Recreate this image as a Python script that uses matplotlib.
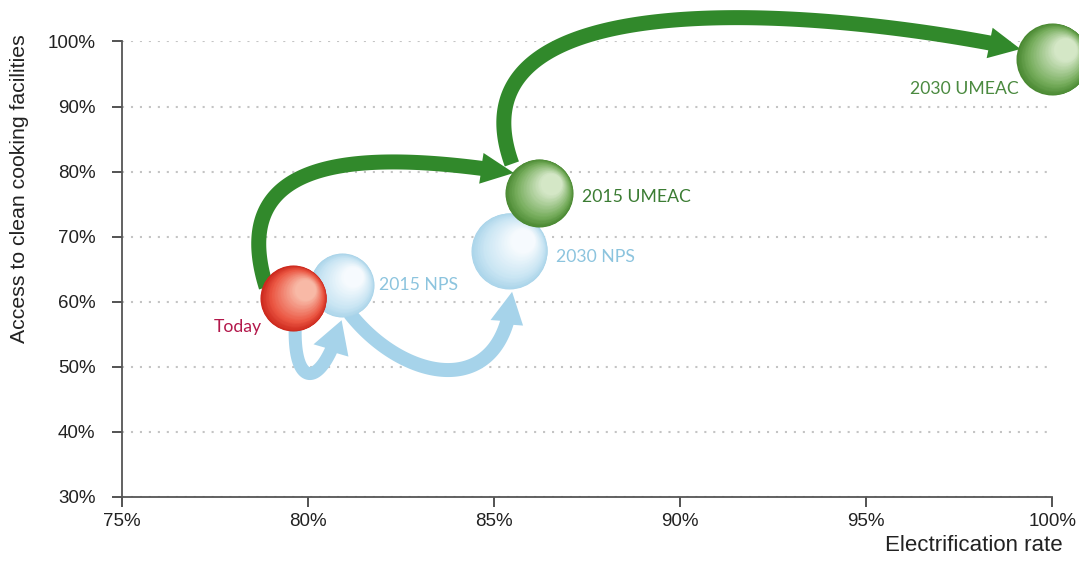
import numpy as np
import matplotlib
matplotlib.use('Agg')
import matplotlib.pyplot as plt
from matplotlib import transforms
from matplotlib.patches import Polygon
from matplotlib.colors import to_rgb

# Bubble data: electrification rate (%) vs access to clean cooking (%)
labels = ['Today', '2015 NPS', '2030 NPS', '2015 UMEAC', '2030 UMEAC']
electrification = [79.6, 80.9, 85.4, 86.2, 100.0]
clean_cooking = [60.5, 62.5, 67.8, 76.7, 97.3]

x_ticks = [75, 80, 85, 90, 95, 100]
y_ticks = [30, 40, 50, 60, 70, 80, 90, 100]

# Transitions between scenarios (from, to)
transitions = [(0, 3), (3, 4), (0, 1), (1, 2)]

# --- styling ---
ball_radius = [33, 32, 38, 34, 36]  # pixels
RED = ('#cc281d', '#eb5642', '#f8bba8')
PALE = ('#abd5ea', '#c9e5f3', '#f7fbfe')
OLIVE = ('#4a8932', '#76ad5c', '#d6e8c9')
ball_colors = [RED, PALE, PALE, OLIVE, OLIVE]
label_color = ['#b3184b', '#8cc4de', '#8cc4de', '#3b7c33', '#4b8a40']
# (dx, dy, ha) in pixels from bubble centre, baseline aligned
label_pos = [(-31, -34, 'right'), (37, -5, 'left'), (47, -11, 'left'),
             (43, -9, 'left'), (-34, -35, 'right')]
draw_order = [1, 2, 0, 3, 4]

GREEN = '#31892b'
BLUE = '#a6d3ea'
# per transition: start offset, start handle, end offset, end handle (pixels),
# body width, head width, head length, colour
arrow_style = [
    ((-27, 11), (-42, 135), (-25, 20), (-148, 23), 15, 31, 32, GREEN),
    ((-27, 29), (-68, 188), (-32, 10), (-196, 41), 15, 31, 31, GREEN),
    ((2, -28), (-2, -64), (0, -35), (-19, -70), 13, 37, 32, BLUE),
    ((8, -28), (55, -70), (3, -41), (-7, -110), 14, 33, 31, BLUE),
]

fig, ax = plt.subplots(figsize=(10.79, 5.70), dpi=100)
fig.subplots_adjust(left=0.1131, right=0.9754, bottom=0.1289, top=0.9272)
ax.set_xlim(75, 100)
ax.set_ylim(30, 100)

regular = ['Liberation Sans', 'DejaVu Sans']

ax.set_xticks(x_ticks)
ax.set_xticklabels([f'{v}%' for v in x_ticks], family=regular, fontsize=13.5, color='#222222')
ax.set_yticks(y_ticks)
ax.set_yticklabels([f'{v}%' for v in y_ticks], family=regular, fontsize=13.5, color='#222222')
ax.tick_params(direction='out', length=7.2, width=1.3, color='#444444')
ax.tick_params(axis='x', pad=5)
ax.tick_params(axis='y', pad=12)
for side in ['top', 'right']:
    ax.spines[side].set_visible(False)
for side in ['left', 'bottom']:
    ax.spines[side].set_color('#555555')
    ax.spines[side].set_linewidth(1.3)
ax.yaxis.grid(True, linestyle=(0, (1, 3.3)), linewidth=1.5, color='#c4c4c4')
ax.set_axisbelow(True)

fig.text(20 / 1079, 1 - 34 / 570, 'Access to clean cooking facilities', rotation=90,
         ha='center', va='top', family=regular, fontsize=15.3, color='#222222')
fig.text(1063 / 1079, 1 - 551 / 570, 'Electrification rate', ha='right', va='baseline',
         family=regular, fontsize=16, color='#222222')


def bezier(p0, p1, p2, p3, n=300):
    t = np.linspace(0, 1, n)[:, None]
    return ((1 - t) ** 3 * p0 + 3 * (1 - t) ** 2 * t * p1
            + 3 * (1 - t) * t ** 2 * p2 + t ** 3 * p3)


def curved_arrow(i, j, style):
    a_off, a_h, b_off, b_h, width, head_w, head_l, color = style
    ca = ax.transData.transform((electrification[i], clean_cooking[i]))
    cb = ax.transData.transform((electrification[j], clean_cooking[j]))
    p0 = ca + a_off
    p3 = cb + b_off
    pts = bezier(p0, p0 + a_h, p3 + b_h, p3)
    seg = np.hypot(*np.diff(pts, axis=0).T)
    s = np.concatenate([[0], np.cumsum(seg)])
    body = pts[s <= s[-1] - head_l]
    tang = np.gradient(body, axis=0)
    tang /= np.hypot(tang[:, 0], tang[:, 1])[:, None]
    norm = np.column_stack([-tang[:, 1], tang[:, 0]])
    left = body + norm * width / 2
    right = body - norm * width / 2
    d = pts[-1] - body[-1]
    d /= np.hypot(*d)
    n = np.array([-d[1], d[0]])
    head = [body[-1] + n * head_w / 2, pts[-1], body[-1] - n * head_w / 2]
    poly = np.vstack([left, head, right[::-1]])
    data = ax.transData.inverted().transform(poly)
    ax.add_patch(Polygon(data, closed=True, facecolor=color, edgecolor='none',
                         zorder=3, clip_on=False))


def draw_ball(k, z):
    # stack of shrinking, shifted discs gives a soft sphere shading
    dark, mid, light = [np.array(to_rgb(c)) for c in ball_colors[k]]
    r = ball_radius[k]
    n = 60
    for step in range(n):
        f = step / n
        rk = r * (1 - 0.7 * f)
        shift = 0.45 * r * f
        tr = transforms.offset_copy(ax.transData, fig=fig, x=shift * 0.8,
                                    y=shift * 0.6, units='dots')
        if f < 0.3:
            c = dark + (mid - dark) * (f / 0.3)
        else:
            c = mid + (light - mid) * ((f - 0.3) / 0.7)
        ax.scatter([electrification[k]], [clean_cooking[k]], s=(2 * rk * 0.72) ** 2,
                   color=c, transform=tr, zorder=z, clip_on=False, linewidths=0)


for (i, j), st in zip(transitions, arrow_style):
    curved_arrow(i, j, st)

for k in draw_order:
    draw_ball(k, 4 if k in (1, 2) else 5)

for k, lab in enumerate(labels):
    dx, dy, ha = label_pos[k]
    ax.annotate(lab, (electrification[k], clean_cooking[k]), xytext=(dx, dy),
                textcoords='offset pixels', ha=ha, va='baseline', fontsize=12.7,
                family=['Lato', 'DejaVu Sans'], color=label_color[k], zorder=6,
                annotation_clip=False)

ax.set_xlim(75, 100)
ax.set_ylim(30, 100)
fig.savefig('out.png', dpi=100, facecolor='white')
